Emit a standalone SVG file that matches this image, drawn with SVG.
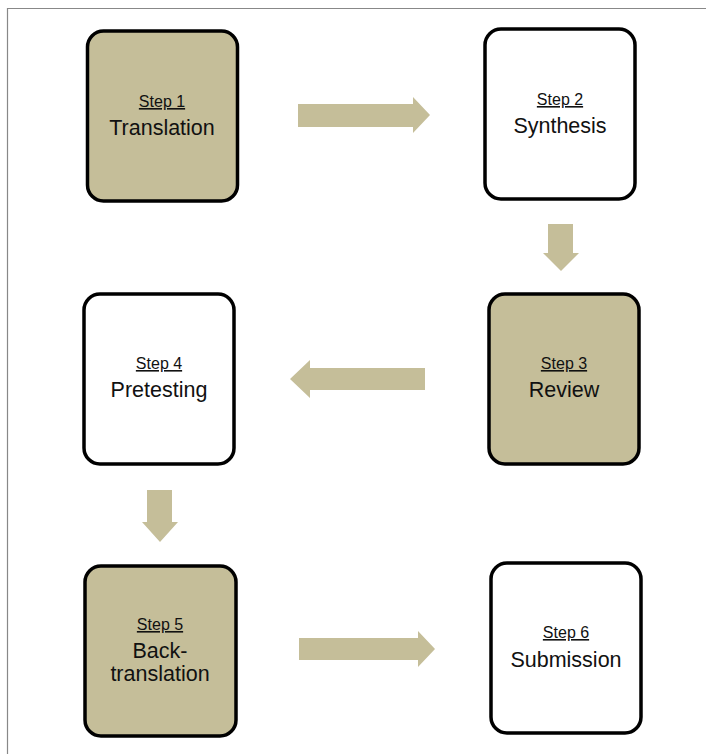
<svg xmlns="http://www.w3.org/2000/svg" width="706" height="754" viewBox="0 0 706 754">
<style>
.box{stroke:#000;stroke-width:3.5}
.tan{fill:#C5BE99}
.wht{fill:#fff}
.arr{fill:#C5BE99}
.s{font-family:"Liberation Sans",Arial,sans-serif;font-size:16px;text-decoration:underline;text-anchor:middle;fill:#111}
.t{font-family:"Liberation Sans",Arial,sans-serif;font-size:21.5px;text-anchor:middle;fill:#111}
</style>
<rect x="0" y="0" width="706" height="754" fill="#fff"/>
<path d="M7.5 754 V8.5 H706" fill="none" stroke="#888" stroke-width="1.2"/>
<g id="connectors">
<polygon class="arr" points="298,104 413,104 413,97 430,115 413,133 413,127 298,127"/>
<polygon class="arr" points="548,224 573,224 573,253 579,253 561,271 543,253 548,253"/>
<polygon class="arr" points="425,368 310,368 310,360 290,379 310,398 310,390 425,390"/>
<polygon class="arr" points="147,490 172,490 172,522 178,522 160,542 142,522 147,522"/>
<polygon class="arr" points="299,638 418,638 418,631 435,649 418,667 418,660 299,660"/>
</g>
<g id="step1">
<rect class="box tan" x="87.5" y="31" width="150" height="170" rx="16"/>
<text class="s" x="162" y="107">Step 1</text>
<text class="t" x="162" y="135">Translation</text>
</g>
<g id="step2">
<rect class="box wht" x="485" y="29" width="150" height="170" rx="16"/>
<text class="s" x="560" y="105">Step 2</text>
<text class="t" x="560" y="133">Synthesis</text>
</g>
<g id="step3">
<rect class="box tan" x="489" y="294" width="150" height="170" rx="16"/>
<text class="s" x="564" y="369">Step 3</text>
<text class="t" x="564" y="397">Review</text>
</g>
<g id="step4">
<rect class="box wht" x="84" y="294" width="150" height="170" rx="16"/>
<text class="s" x="159" y="369">Step 4</text>
<text class="t" x="159" y="397">Pretesting</text>
</g>
<g id="step5">
<rect class="box tan" x="85" y="566" width="151" height="170" rx="16"/>
<text class="s" x="160" y="630">Step 5</text>
<text class="t" x="160" y="658">Back-</text>
<text class="t" x="160" y="681">translation</text>
</g>
<g id="step6">
<rect class="box wht" x="491" y="563" width="150" height="170" rx="16"/>
<text class="s" x="566" y="638">Step 6</text>
<text class="t" x="566" y="667">Submission</text>
</g>
</svg>
